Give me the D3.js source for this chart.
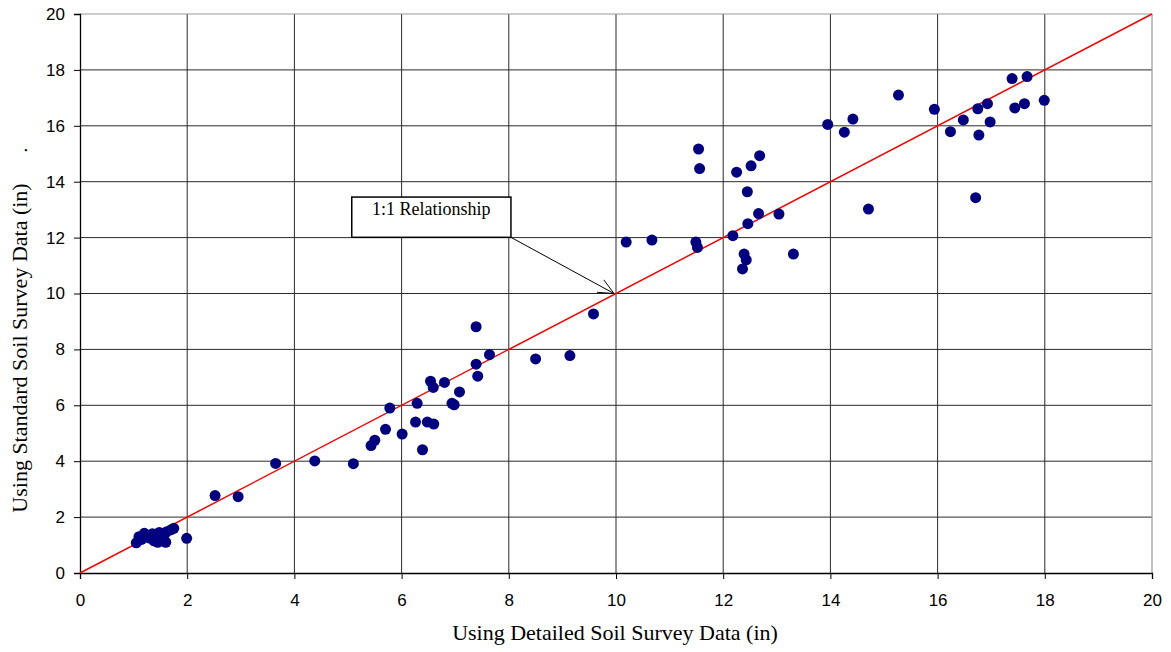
<!DOCTYPE html>
<html><head><meta charset="utf-8">
<script src="https://cdn.jsdelivr.net/npm/d3@7"></script>
<style>body{margin:0;background:#fff;}svg{display:block;}</style>
</head><body>
<svg id="chart" width="1171" height="652"></svg>
<script>
const detailed = [1.05,1.1,1.15,1.2,1.3,1.38,1.42,1.48,1.5,1.55,1.6,1.62,1.7,1.75,1.35,1.25,1.45,1.58,1.99,
  2.52,2.95,3.65,4.38,5.10,5.43,5.50,5.70,6.01,5.78,6.26,6.39,6.29,6.48,6.60,6.54,6.59,6.80,6.94,6.98,7.08,7.39,7.42,7.39,7.64,8.50,9.14,9.58,
  10.19,10.67,11.49,11.52,11.54,11.56,12.18,12.25,12.52,12.68,12.45,12.66,12.46,13.04,12.39,12.43,12.36,13.31,
  13.95,14.26,14.42,14.71,15.27,15.94,16.24,16.48,16.75,16.93,16.77,16.98,16.71,17.39,17.67,17.44,17.62,17.99];
const standard = [1.08,1.3,1.2,1.42,1.25,1.15,1.35,1.45,1.2,1.3,1.1,1.48,1.55,1.6,1.4,1.3,1.1,1.4,1.24,
  2.77,2.73,3.92,4.01,3.91,4.56,4.75,5.14,4.97,5.90,5.40,4.41,6.07,5.40,5.33,6.86,6.64,6.82,6.07,6.02,6.48,7.47,7.04,8.81,7.81,7.66,7.78,9.27,
  11.84,11.91,11.84,11.65,15.17,14.47,12.07,14.34,14.57,14.93,13.64,12.86,12.50,12.84,11.41,11.20,10.88,11.41,
  16.05,15.77,16.24,13.02,17.10,16.59,15.79,16.21,16.61,16.79,15.67,16.14,13.43,17.69,17.76,16.64,16.79,16.91];
const xTicks = [0,2,4,6,8,10,12,14,16,18,20];
const yTicks = [0,2,4,6,8,10,12,14,16,18,20];
const xTitle = "Using Detailed Soil Survey Data (in)";
const yTitle = "Using Standard Soil Survey Data (in)";
const annotation = "1:1 Relationship";

const svg = d3.select("#chart");
const x = d3.scaleLinear().domain([0,20]).range([80,1152]);
const y = d3.scaleLinear().domain([0,20]).range([573,14]);

// grid
svg.append("g").selectAll("line").data(xTicks.slice(1,-1)).join("line")
  .attr("x1",d=>x(d)).attr("x2",d=>x(d)).attr("y1",y(0)).attr("y2",y(20))
  .attr("stroke","#2a2a2a").attr("stroke-width",1);
svg.append("g").selectAll("line").data(yTicks.slice(1,-1)).join("line")
  .attr("y1",d=>y(d)).attr("y2",d=>y(d)).attr("x1",x(0)).attr("x2",x(20))
  .attr("stroke","#2a2a2a").attr("stroke-width",1);
// top & right border gray
svg.append("line").attr("x1",x(0)).attr("x2",x(20)).attr("y1",y(20)).attr("y2",y(20)).attr("stroke","#999").attr("stroke-width",1.2);
svg.append("line").attr("x1",x(20)).attr("x2",x(20)).attr("y1",y(0)).attr("y2",y(20)).attr("stroke","#999").attr("stroke-width",1.2);

// axes
const xAxis = d3.axisBottom(x).tickValues(xTicks).tickSize(6).tickPadding(15).tickFormat(d3.format("d"));
const yAxis = d3.axisLeft(y).tickValues(yTicks).tickSize(6).tickPadding(9).tickFormat(d3.format("d"));
const gx = svg.append("g").attr("transform",`translate(0,${y(0)})`).call(xAxis);
const gy = svg.append("g").attr("transform",`translate(${x(0)},0)`).call(yAxis);
[gx,gy].forEach(g=>{
  g.select(".domain").attr("stroke","#000").attr("stroke-width",1.3);
  g.selectAll(".tick line").attr("stroke","#000");
  g.selectAll(".tick text").attr("font-family","'Liberation Sans', Arial, sans-serif").attr("font-size",17).attr("fill","#000");
});

// 1:1 line
svg.append("line").attr("x1",x(0)).attr("y1",y(0)).attr("x2",x(20)).attr("y2",y(20))
  .attr("stroke","#ff0000").attr("stroke-width",1.5);

// points
svg.append("g").selectAll("circle").data(detailed.map((d,i)=>[d,standard[i]])).join("circle")
  .attr("cx",d=>x(d[0])).attr("cy",d=>y(d[1])).attr("r",5.5).attr("fill","#000080");

// annotation
const bx0 = x(5.07), bx1 = x(8.04), by0 = y(13.45), by1 = y(12.01);
svg.append("rect").attr("x",bx0).attr("y",by0).attr("width",bx1-bx0).attr("height",by1-by0)
  .attr("fill","#fff").attr("stroke","#000").attr("stroke-width",1.5);
svg.append("text").attr("x",(bx0+bx1)/2).attr("y",by0+18).attr("text-anchor","middle")
  .attr("font-family","'Liberation Serif','Times New Roman',serif").attr("font-size",18).text(annotation);
const ax = x(10)-2, ay = y(10);
svg.append("line").attr("x1",bx1).attr("y1",by1).attr("x2",ax).attr("y2",ay).attr("stroke","#000").attr("stroke-width",1);
const ang = Math.atan2(ay-by1, ax-bx1);
const hl = 17, ha = 0.43;
svg.append("path").attr("d",`M${ax-hl*Math.cos(ang-ha)},${ay-hl*Math.sin(ang-ha)} L${ax},${ay} L${ax-hl*Math.cos(ang+ha)},${ay-hl*Math.sin(ang+ha)}`)
  .attr("fill","none").attr("stroke","#000").attr("stroke-width",1);

// titles
svg.append("text").attr("x",615).attr("y",640).attr("text-anchor","middle")
  .attr("font-family","'Liberation Serif','Times New Roman',serif").attr("font-size",22).text(xTitle);
svg.append("text").attr("transform",`translate(27,348) rotate(-90)`).attr("text-anchor","middle")
  .attr("font-family","'Liberation Serif','Times New Roman',serif").attr("font-size",22).text(yTitle);
svg.append("text").attr("transform",`translate(27,150) rotate(-90)`).attr("text-anchor","middle")
  .attr("font-family","'Liberation Serif','Times New Roman',serif").attr("font-size",19).text(".");
</script>
</body></html>
